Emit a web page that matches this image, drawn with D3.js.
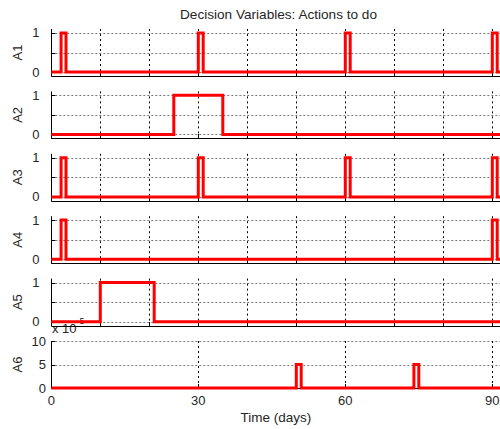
<!DOCTYPE html>
<html><head><meta charset="utf-8">
<script src="https://cdn.jsdelivr.net/npm/d3@7"></script>
<style>
body{margin:0;background:#fff}
svg{display:block}
text{font-family:"Liberation Sans",Arial,sans-serif;fill:#262626}
</style>
</head><body>
<svg id="c" width="500" height="429"></svg>
<script>
// ---- data ----
const title = "Decision Variables: Actions to do";
const xLabel = "Time (days)";
const panelNames = ["A1", "A2", "A3", "A4", "A5", "A6"];
const xTickLabels = [0, 30, 60, 90];
const xMinorTicks = [0, 10, 20, 30, 40, 50, 60, 70, 80, 90];
const binTicks = [0, 0.5, 1];
const binTickLabels = ["0", "", "1"];
const a6Ticks = [0, 5, 10];
const a6TickLabels = ["0", "5", "10"];
const a6Exponent = "-5";

// step series: change times (days) and values
const A1_t = [0, 2, 3, 30, 31, 60, 61, 90, 91, 93];
const A1_v = [0, 1, 0, 1, 0, 1, 0, 1, 0, 0];
const A2_t = [0, 25, 35, 93];
const A2_v = [0, 1, 0, 0];
const A3_t = [0, 2, 3, 30, 31, 60, 61, 90, 91, 93];
const A3_v = [0, 1, 0, 1, 0, 1, 0, 1, 0, 0];
const A4_t = [0, 2, 3, 90, 91, 93];
const A4_v = [0, 1, 0, 1, 0, 0];
const A5_t = [0, 10, 21, 93];
const A5_v = [0, 1, 0, 0];
const A6_t = [0, 50, 51, 74, 75, 93];
const A6_v = [0, 5, 0, 5, 0, 0];   // x 10^-5

const seriesT = [A1_t, A2_t, A3_t, A4_t, A5_t, A6_t];
const seriesV = [A1_v, A2_v, A3_v, A4_v, A5_v, A6_v];

// ---- layout ----
const svg = d3.select("#c");
const left = 51.3, xEnd = 93;
const x = d3.scaleLinear().domain([0, xEnd]).range([left, left + xEnd * 4.9]);
const panelTop0 = 29, panelStep = 62.4, panelH = 47;
const rightEdge = 510;

svg.append("text").attr("x", 278.5).attr("y", 18.5).attr("text-anchor", "middle")
  .style("font-size", "13.6px").text(title);

// exponent label for A6 (drawn first so A5 line overlaps)
const expT = svg.append("text").attr("x", 52).attr("y", 333).style("font-size", "13px");
expT.append("tspan").text("x 10");
expT.append("tspan").attr("dy", -9).style("font-size", "9px").text(a6Exponent);

panelNames.forEach((name, i) => {
  const top = panelTop0 + i * panelStep, bot = top + panelH;
  const isA6 = i === 5;
  const y = d3.scaleLinear()
    .domain(isA6 ? [0, 10] : [-0.1, 1.1])
    .range([bot, top]);
  const ticks = isA6 ? a6Ticks : binTicks;
  const tickLabels = isA6 ? a6TickLabels : binTickLabels;
  const vTicks = isA6 ? xTickLabels : xMinorTicks;
  const g = svg.append("g");

  // horizontal grid
  ticks.forEach(t => {
    g.append("line").attr("x1", left).attr("x2", rightEdge)
      .attr("y1", Math.round(y(t)) + 0.5).attr("y2", Math.round(y(t)) + 0.5)
      .attr("stroke", "#777").attr("stroke-dasharray", "2,2");
  });
  // vertical grid
  vTicks.filter(d => d > 0).forEach(d => {
    g.append("line").attr("x1", Math.round(x(d)) + 0.5).attr("x2", Math.round(x(d)) + 0.5)
      .attr("y1", top).attr("y2", bot)
      .attr("stroke", "#000").attr("stroke-dasharray", "2,3");
  });
  // axes lines
  g.append("line").attr("x1", left).attr("x2", rightEdge)
    .attr("y1", Math.round(bot) + 0.5).attr("y2", Math.round(bot) + 0.5).attr("stroke", "#000");
  g.append("line").attr("x1", Math.round(left) + 0.5).attr("x2", Math.round(left) + 0.5)
    .attr("y1", top).attr("y2", bot + 0.5).attr("stroke", "#000");
  // tick marks
  vTicks.forEach(d => {
    g.append("line").attr("x1", Math.round(x(d)) + 0.5).attr("x2", Math.round(x(d)) + 0.5)
      .attr("y1", Math.round(bot)).attr("y2", Math.round(bot) - 4).attr("stroke", "#000");
  });
  ticks.forEach(t => {
    g.append("line").attr("x1", left).attr("x2", left + 4)
      .attr("y1", Math.round(y(t)) + 0.5).attr("y2", Math.round(y(t)) + 0.5).attr("stroke", "#000");
  });
  // tick labels
  ticks.forEach((t, k) => {
    if (!tickLabels[k]) return;
    g.append("text").attr("x", isA6 ? 46 : 39.5).attr("y", y(t) + 4.5)
      .attr("text-anchor", "end").style("font-size", "13px").text(tickLabels[k]);
  });
  // y label
  g.append("text").attr("transform", `translate(22,${(top + bot) / 2}) rotate(-90)`)
    .attr("text-anchor", "middle").style("font-size", "13px").text(name);

  // data line
  const pts = seriesT[i].map((t, k) => [t, seriesV[i][k]]);
  const line = d3.line().x(d => x(d[0])).y(d => y(d[1])).curve(d3.curveStepAfter);
  g.append("path").attr("d", line(pts)).attr("fill", "none")
    .attr("stroke", "#ff0000").attr("stroke-width", 3).attr("stroke-linejoin", "miter");
});

// x tick labels on bottom panel
xTickLabels.forEach(d => {
  svg.append("text").attr("x", x(d)).attr("y", 404.5).attr("text-anchor", "middle")
    .style("font-size", "13px").text(d);
});
svg.append("text").attr("x", 276).attr("y", 421.5).attr("text-anchor", "middle")
  .style("font-size", "13.5px").text(xLabel);
</script>
</body></html>
